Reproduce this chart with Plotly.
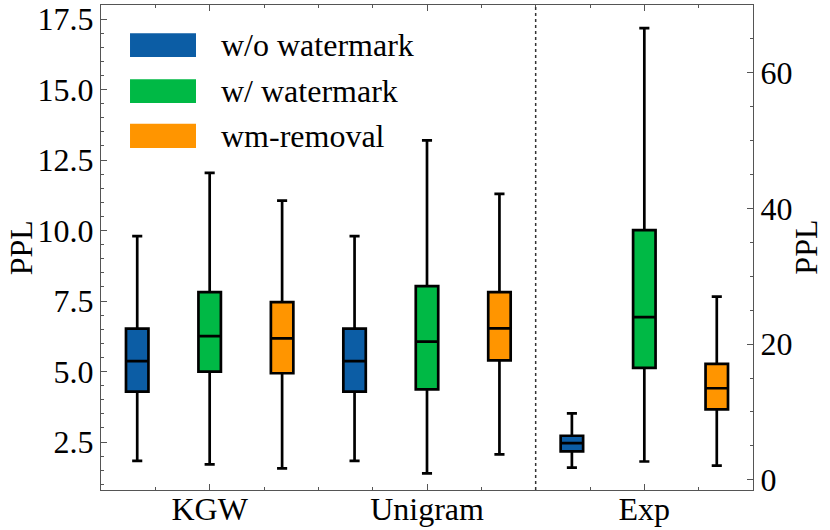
import plotly.graph_objects as go

methods = ["KGW", "Unigram", "Exp"]
series_names = ["w/o watermark", "w/ watermark", "wm-removal"]
colors = ["#0C5DA5", "#00B945", "#FF9500"]

# box statistics per series, one value per method (KGW, Unigram on left axis; Exp on right axis)
wo_low = [1.83, 1.83, 1.8]
wo_q1 = [4.29, 4.29, 4.2]
wo_med = [5.37, 5.37, 5.4]
wo_q3 = [6.52, 6.52, 6.5]
wo_high = [9.8, 9.8, 9.8]

w_low = [1.71, 1.39, 2.7]
w_q1 = [5.0, 4.37, 16.5]
w_med = [6.26, 6.06, 24.0]
w_q3 = [7.82, 8.03, 36.8]
w_high = [12.05, 13.2, 66.6]

rm_low = [1.57, 2.06, 2.1]
rm_q1 = [4.94, 5.40, 10.4]
rm_med = [6.18, 6.53, 13.5]
rm_q3 = [7.46, 7.82, 17.1]
rm_high = [11.06, 11.3, 27.0]

stats = [
    (wo_low, wo_q1, wo_med, wo_q3, wo_high),
    (w_low, w_q1, w_med, w_q3, w_high),
    (rm_low, rm_q1, rm_med, rm_q3, rm_high),
]

left_ticks = [2.5, 5.0, 7.5, 10.0, 12.5, 15.0, 17.5]
right_ticks = [0, 20, 40, 60]
y_title = "PPL"

FONT = "Liberation Serif"
FS = 32
AX = "#555555"

fig = go.Figure()
for si, (lo, q1, med, q3, hi) in enumerate(stats):
    xl = [mi * 3 + si for mi in range(2)]
    fig.add_trace(go.Box(
        x=xl, q1=q1[:2], median=med[:2], q3=q3[:2],
        lowerfence=lo[:2], upperfence=hi[:2],
        fillcolor=colors[si], line=dict(color="black", width=2.7),
        width=0.31, whiskerwidth=0.45, name=series_names[si],
        showlegend=False, yaxis="y", hoverinfo="skip",
    ))
    fig.add_trace(go.Box(
        x=[2 * 3 + si], q1=[q1[2]], median=[med[2]], q3=[q3[2]],
        lowerfence=[lo[2]], upperfence=[hi[2]],
        fillcolor=colors[si], line=dict(color="black", width=2.7),
        width=0.31, whiskerwidth=0.45, name=series_names[si],
        showlegend=False, yaxis="y2", hoverinfo="skip",
    ))

# manual legend (patches + labels)
patch_y = [(0.893, 0.942), (0.798, 0.847), (0.705, 0.755)]
for si, name in enumerate(series_names):
    y0, y1 = patch_y[si]
    fig.add_shape(type="rect", xref="paper", yref="paper", x0=0.0445, x1=0.1457,
                  y0=y0, y1=y1, fillcolor=colors[si], line=dict(width=0), layer="above")
    fig.add_annotation(xref="paper", yref="paper", x=0.181, y=(y0 + y1) / 2,
                       text=name, showarrow=False, xanchor="left", yanchor="middle",
                       font=dict(family=FONT, size=FS, color="black"))

# axis titles
fig.add_annotation(xref="paper", yref="paper", x=-0.123, y=0.50, text=y_title,
                   textangle=-90, showarrow=False, xanchor="center", yanchor="middle",
                   font=dict(family=FONT, size=FS, color="black"))
fig.add_annotation(xref="paper", yref="paper", x=1.080, y=0.50, text=y_title,
                   textangle=-90, showarrow=False, xanchor="center", yanchor="middle",
                   font=dict(family=FONT, size=FS, color="black"))

# dotted separator
fig.add_shape(type="line", xref="x", yref="paper", x0=5.5, x1=5.5, y0=0, y1=1,
              line=dict(color="#333333", width=1.5, dash="dot"))

fig.update_layout(
    width=830, height=530,
    margin=dict(l=101, r=77, t=5, b=40),
    paper_bgcolor="white", plot_bgcolor="white",
    font=dict(family=FONT, size=FS, color="black"),
    boxmode="overlay",
    xaxis=dict(
        range=[-0.5, 8.5], tickmode="array", tickvals=[1, 4, 7], ticktext=methods,
        ticks="inside", ticklen=6, tickwidth=1, tickcolor=AX,
        showline=True, linecolor=AX, linewidth=1.2, mirror="ticks",
        showgrid=False, zeroline=False, automargin=False, ticklabelstandoff=-10,
        minor=dict(tick0=0.25, dtick=0.75, ticks="inside", ticklen=3, tickcolor=AX),
    ),
    yaxis=dict(
        range=[0.8, 18.0], tickmode="array", tickvals=left_ticks,
        ticktext=[f"{v:.1f}" for v in left_ticks],
        ticks="inside", ticklen=6, tickcolor=AX,
        showline=True, linecolor=AX, linewidth=1.2,
        showgrid=False, zeroline=False, automargin=False,
        minor=dict(dtick=0.5, ticks="inside", ticklen=3, tickcolor=AX),
    ),
    yaxis2=dict(
        range=[-1.5, 70], overlaying="y", side="right", tickmode="array",
        tickvals=right_ticks, ticks="inside", ticklen=6, tickcolor=AX,
        showline=True, linecolor=AX, linewidth=1.2,
        showgrid=False, zeroline=False, automargin=False,
        minor=dict(dtick=5, ticks="inside", ticklen=3, tickcolor=AX),
    ),
)

fig.write_html("out.html", config={"displayModeBar": False},
               post_script="document.body.style.margin='0px';document.body.style.overflow='hidden';")
